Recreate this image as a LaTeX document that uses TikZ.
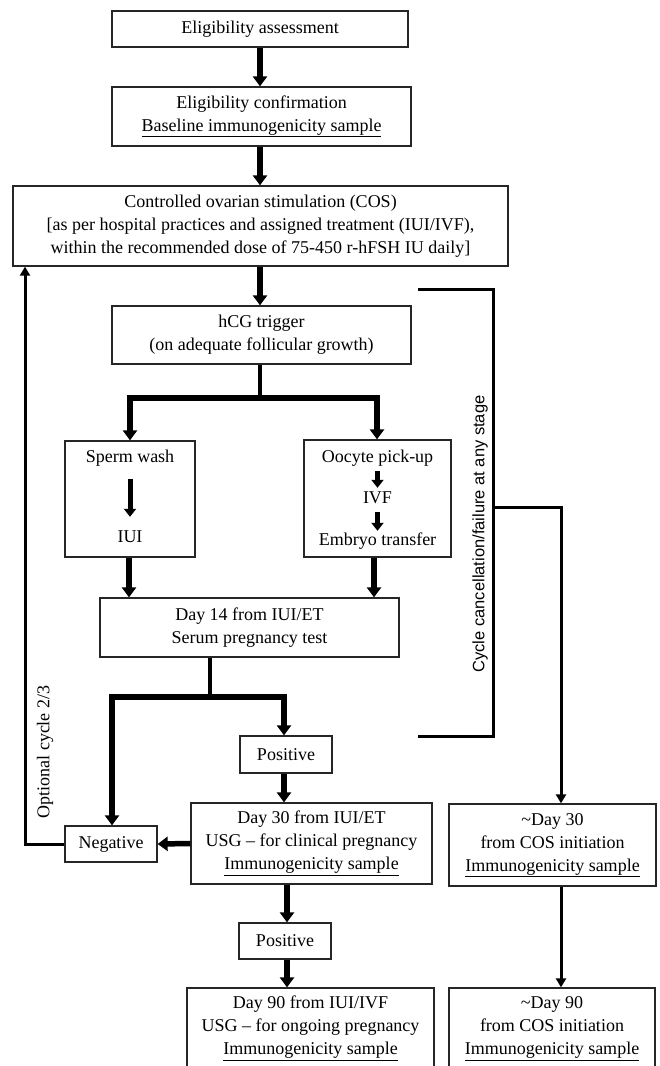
\documentclass[tikz,border=0pt]{standalone}
\usepackage{fontspec}
\setmainfont{Liberation Serif}
\newfontfamily\arialf{Liberation Sans}
\usetikzlibrary{arrows.meta,calc}
\newcommand\myfs{\fontsize{18}{23}\selectfont}
\tikzset{
  box/.style={draw=black!85, line width=1.3pt, inner sep=0pt, align=center, font=\myfs},
  lbl/.style={inner sep=0pt, font=\myfs, text height=12pt, text depth=4pt},
  tarr/.style={line width=5.5pt, -{Triangle[width=14pt,length=10pt]}},
  sarr/.style={line width=5pt, -{Triangle[width=12pt,length=8pt]}},
  brl/.style={line width=4pt},
  thl/.style={line width=3pt},
  tharr/.style={line width=3pt, -{Triangle[width=10pt,length=9pt]}},
}
\begin{document}
\begin{tikzpicture}[x=1pt,y=-1pt]
\useasboundingbox (0,0) rectangle (659,1066);
\clip (0,0) rectangle (659,1066);
% boxes
\node[box, minimum width=296pt, minimum height=36pt] (ea) at (260,29) {Eligibility assessment};
\node[box, minimum width=299pt, minimum height=59pt] (ec) at (261.5,116.5) {Eligibility confirmation\\\underline{Baseline immunogenicity sample}};
\node[box, minimum width=495pt, minimum height=80pt] (cos) at (260.5,226) {Controlled ovarian stimulation (COS)\\{[}as per hospital practices and assigned treatment (IUI/IVF),\\within the recommended dose of 75-450 r-hFSH IU daily{]}};
\node[box, minimum width=299pt, minimum height=58pt] (hcg) at (261.5,335) {hCG trigger\\(on adequate follicular growth)};
\node[box, minimum width=130pt, minimum height=116pt] (sw) at (130,499) {};
\node[box, minimum width=147pt, minimum height=117pt] (oo) at (377.5,498.5) {};
\node[lbl] (swt) at (130,458) {Sperm wash};
\node[lbl] (iui) at (130,538) {IUI};
\node[lbl] (oot) at (377.5,458) {Oocyte pick-up};
\node[lbl] (ivf) at (377.5,499) {IVF};
\node[lbl] (emb) at (377.5,541) {Embryo transfer};
\node[box, minimum width=299pt, minimum height=59pt] (d14) at (249.5,627.5) {Day 14 from IUI/ET\\Serum pregnancy test};
\node[box, minimum width=92pt, minimum height=37pt] (pos1) at (286,754.5) {Positive};
\node[box, minimum width=92pt, minimum height=36pt] (neg) at (111,844) {Negative};
\node[box, minimum width=241pt, minimum height=81pt] (d30) at (311.5,843.5) {Day 30 from IUI/ET\\USG -- for clinical pregnancy\\\underline{Immunogenicity sample}};
\node[box, minimum width=207pt, minimum height=82pt] (c30) at (552.5,845) {\textasciitilde Day 30\\from COS initiation\\\underline{Immunogenicity sample}};
\node[box, minimum width=92pt, minimum height=36pt] (pos2) at (285,941) {Positive};
\node[box, minimum width=247pt, minimum height=81pt] (d90) at (310.5,1028.5) {Day 90 from IUI/IVF\\USG -- for ongoing pregnancy\\\underline{Immunogenicity sample}};
\node[box, minimum width=206pt, minimum height=81pt] (c90) at (552,1028.5) {\textasciitilde Day 90\\from COS initiation\\\underline{Immunogenicity sample}};
% coordinates
\coordinate (b1) at (260,398);
\coordinate (b2) at (210,697);
\coordinate (oc) at (25,844);
\coordinate (ca1) at (418,289);
\coordinate (ca2) at (418,736);
\coordinate (cb) at (493,507);
\coordinate (cr) at (561,507);
% main flow
\draw[tarr] (ea.south) -- (ea.south |- ec.north);
\draw[tarr] (ec.south -| ea.south) -- (ea.south |- cos.north);
\draw[tarr] (cos.south -| ea.south) -- (ea.south |- hcg.north);
\draw[brl] (b1 |- hcg.south) -- (b1);
\draw[tarr] (b1) -| (sw.north);
\draw[tarr] (b1) -| ([xshift=-0.5pt]oo.north);
\draw[sarr, shorten <=13pt, shorten >=13pt] (swt.south) -- (iui.north);
\draw[sarr, shorten <=5pt, shorten >=3pt] (oot.south) -- (ivf.north);
\draw[sarr, shorten <=5pt, shorten >=2pt] (ivf.south) -- (emb.north);
\draw[tarr] ([xshift=-1pt]sw.south) -- ([xshift=-1pt]sw.south |- d14.north);
\draw[tarr] ([xshift=-3.5pt]oo.south) -- ([xshift=-3.5pt]oo.south |- d14.north);
\draw[brl] (b2 |- d14.south) -- (b2);
\draw[tarr] (b2) -| ([xshift=-2pt]pos1.north);
\draw[tarr] (b2) -| ([xshift=1pt]neg.north);
\draw[tarr] ([xshift=-2pt]pos1.south) -- ([xshift=-2pt]pos1.south |- d30.north);
\draw[tarr] (d30.west) -- (neg.east);
\draw[tharr] (neg.west) -- (oc) -- (oc |- cos.south);
\node[font=\myfs, rotate=90, inner sep=0pt] (optl) at (45,752) {Optional cycle 2/3};
\draw[tarr] ([xshift=2pt]pos2.north |- d30.south) -- ([xshift=2pt]pos2.north);
\draw[tarr] ([xshift=2pt]pos2.south) -- ([xshift=2pt]pos2.south |- d90.north);
% cancellation
\draw[thl] (ca1) -| (cb) |- (ca2);
\draw[tharr] (cb) -- (cr) -- (cr |- c30.north);
\draw[tharr] (cr |- c30.south) -- (cr |- c90.north);
\node[font=\arialf\fontsize{16.5}{20}\selectfont, rotate=90, inner sep=0pt] (canl) at (480,534) {Cycle cancellation/failure at any stage};
\end{tikzpicture}
\end{document}
